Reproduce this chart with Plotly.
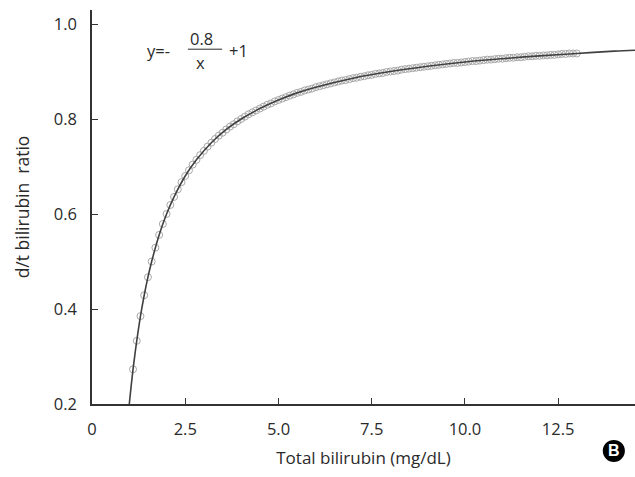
import plotly.graph_objects as go

# Observed data points (total bilirubin, d/t ratio)
obs_x = [1.1, 1.2, 1.3, 1.4, 1.5, 1.6, 1.7, 1.8, 1.9, 2.0,
         2.1, 2.2, 2.3, 2.4, 2.5, 2.6, 2.7, 2.8, 2.9, 3.0,
         3.1, 3.2, 3.3, 3.4, 3.5, 3.6, 3.7, 3.8, 3.9, 4.0,
         4.1, 4.2, 4.3, 4.4, 4.5, 4.6, 4.7, 4.8, 4.9, 5.0,
         5.1, 5.2, 5.3, 5.4, 5.5, 5.6, 5.7, 5.8, 5.9, 6.0,
         6.1, 6.2, 6.3, 6.4, 6.5, 6.6, 6.7, 6.8, 6.9, 7.0,
         7.1, 7.2, 7.3, 7.4, 7.5, 7.6, 7.7, 7.8, 7.9, 8.0,
         8.1, 8.2, 8.3, 8.4, 8.5, 8.6, 8.7, 8.8, 8.9, 9.0,
         9.1, 9.2, 9.3, 9.4, 9.5, 9.6, 9.7, 9.8, 9.9, 10.0,
         10.1, 10.2, 10.3, 10.4, 10.5, 10.6, 10.7, 10.8, 10.9, 11.0,
         11.1, 11.2, 11.3, 11.4, 11.5, 11.6, 11.7, 11.8, 11.9, 12.0,
         12.1, 12.2, 12.3, 12.4, 12.5, 12.6, 12.7, 12.8, 12.9, 13.0]
obs_y = [0.273, 0.333, 0.385, 0.429, 0.467, 0.500, 0.529, 0.556, 0.579, 0.600,
         0.619, 0.636, 0.652, 0.667, 0.680, 0.692, 0.704, 0.714, 0.724, 0.733,
         0.742, 0.750, 0.758, 0.765, 0.771, 0.778, 0.784, 0.789, 0.795, 0.800,
         0.805, 0.810, 0.814, 0.818, 0.822, 0.826, 0.830, 0.833, 0.837, 0.840,
         0.843, 0.846, 0.849, 0.852, 0.855, 0.857, 0.860, 0.862, 0.864, 0.867,
         0.869, 0.871, 0.873, 0.875, 0.877, 0.879, 0.881, 0.882, 0.884, 0.886,
         0.887, 0.889, 0.890, 0.892, 0.893, 0.895, 0.896, 0.897, 0.899, 0.900,
         0.901, 0.902, 0.904, 0.905, 0.906, 0.907, 0.908, 0.909, 0.910, 0.911,
         0.912, 0.913, 0.914, 0.915, 0.916, 0.917, 0.918, 0.918, 0.919, 0.920,
         0.921, 0.922, 0.922, 0.923, 0.924, 0.925, 0.925, 0.926, 0.927, 0.927,
         0.928, 0.929, 0.929, 0.930, 0.930, 0.931, 0.932, 0.932, 0.933, 0.933,
         0.934, 0.934, 0.935, 0.935, 0.936, 0.937, 0.937, 0.938, 0.938, 0.938]

# Fitted curve y = -0.8/x + 1, read at selected points
fit_x = [1.0, 1.05, 1.1, 1.15, 1.2, 1.3, 1.4, 1.5, 1.6, 1.8, 2.0, 2.2, 2.5,
         2.8, 3.2, 3.6, 4.0, 4.5, 5.0, 5.5, 6.0, 7.0, 8.0, 9.0, 10.0,
         11.0, 12.0, 13.0, 14.0, 14.6]
fit_y = [0.200, 0.238, 0.273, 0.304, 0.333, 0.385, 0.429, 0.467, 0.500, 0.556,
         0.600, 0.636, 0.680, 0.714, 0.750, 0.778, 0.800, 0.822, 0.840, 0.855,
         0.867, 0.886, 0.900, 0.911, 0.920, 0.927, 0.933, 0.938, 0.943, 0.945]

x_ticks = [0, 2.5, 5.0, 7.5, 10.0, 12.5]
x_tick_text = ["0", "2.5", "5.0", "7.5", "10.0", "12.5"]
y_ticks = [0.2, 0.4, 0.6, 0.8, 1.0]
y_tick_text = ["0.2", "0.4", "0.6", "0.8", "1.0"]

FONT = "Open Sans, Noto Sans, Liberation Sans, Arial"
TXT = "#2a2a2a"
FS = 16.5

fig = go.Figure()
fig.add_trace(go.Scatter(
    x=obs_x, y=obs_y, mode="markers",
    marker=dict(symbol="circle-open", size=7, color="#a8a8a8",
                line=dict(width=1, color="#a8a8a8")),
    showlegend=False, cliponaxis=False))
fig.add_trace(go.Scatter(
    x=fit_x, y=fit_y, mode="lines", line_shape="spline",
    line=dict(color="#404040", width=1.6), showlegend=False))

fig.update_layout(
    width=635, height=477,
    margin=dict(l=92, r=0, t=10, b=73),
    paper_bgcolor="white", plot_bgcolor="white",
    font=dict(family=FONT, size=FS, color=TXT),
    xaxis=dict(range=[0, 14.56], tickvals=x_ticks, ticktext=x_tick_text,
               ticks="inside", ticklen=6, tickcolor="#333", showgrid=False,
               zeroline=False, showline=True, linecolor="#333", linewidth=1.5,
               ticklabelstandoff=9,
               title=dict(text="Total bilirubin (mg/dL)", standoff=14,
                          font=dict(size=17, family=FONT))),
    yaxis=dict(range=[0.2, 1.0295], tickvals=y_ticks, ticktext=y_tick_text,
               ticks="inside", ticklen=6, tickcolor="#333", showgrid=False,
               zeroline=False, showline=True, linecolor="#333", linewidth=1.5,
               ticklabelstandoff=10,
               title=dict(text="d/t bilirubin  ratio", standoff=20,
                          font=dict(size=17.5, family=FONT))),
)

# Equation annotation
fig.add_annotation(x=1.77, y=0.945, text="y=-", showarrow=False,
                   xanchor="center", yanchor="middle", font=dict(size=FS))
fig.add_annotation(x=2.94, y=0.970, text="0.8", showarrow=False,
                   xanchor="center", yanchor="middle", font=dict(size=FS))
fig.add_annotation(x=2.92, y=0.920, text="x", showarrow=False,
                   xanchor="center", yanchor="middle", font=dict(size=FS))
fig.add_annotation(x=3.94, y=0.945, text="+1", showarrow=False,
                   xanchor="center", yanchor="middle", font=dict(size=FS))
fig.add_shape(type="line", x0=2.57, x1=3.49, y0=0.947, y1=0.947,
              line=dict(color=TXT, width=1))

# "B" panel badge
fig.add_shape(type="circle", xref="paper", yref="paper",
              x0=0.961 - 0.0203, x1=0.961 + 0.0203,
              y0=-0.119 - 0.0279, y1=-0.119 + 0.0279,
              fillcolor="black", line=dict(color="black", width=0))
fig.add_annotation(xref="paper", yref="paper", x=0.961, y=-0.119, text="<b>B</b>",
                   showarrow=False, xanchor="center", yanchor="middle",
                   font=dict(size=16, color="white", family="Liberation Sans, Arial"))

fig.write_html("out.html")
